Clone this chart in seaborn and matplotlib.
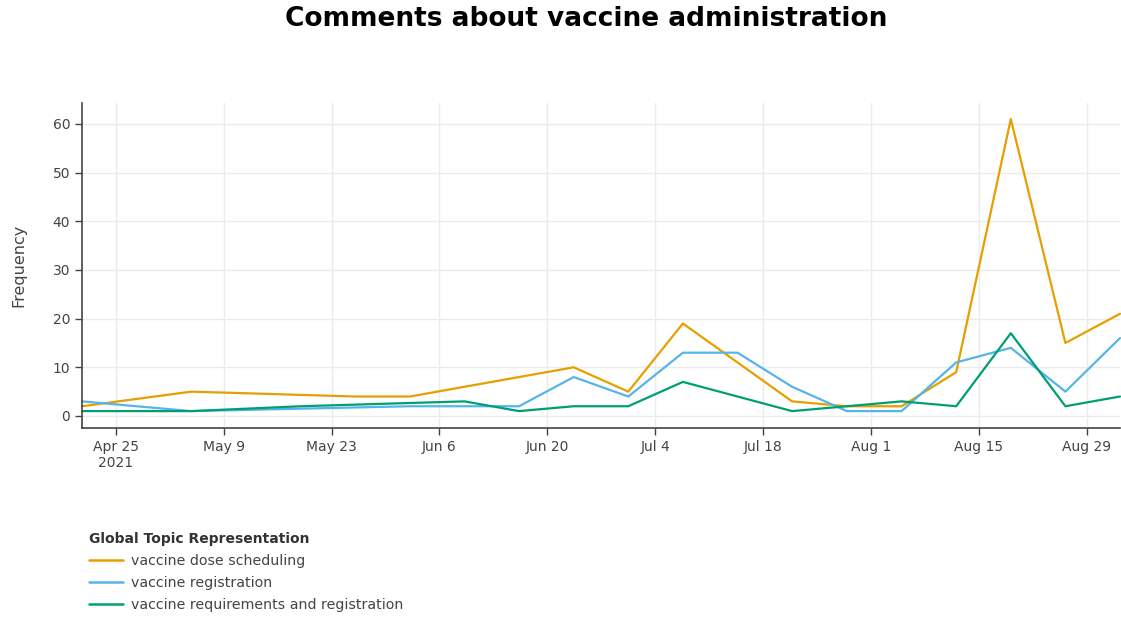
import numpy as np
import pandas as pd
import matplotlib
matplotlib.use("Agg")
import matplotlib.pyplot as plt
import matplotlib.dates as mdates
import seaborn as sns

# bin timestamps (weekly-ish bins)
dates = ["2021-04-20 15:00", "2021-04-27 17:00", "2021-05-04 19:00", "2021-05-11 22:00",
         "2021-05-19 00:00", "2021-05-26 02:00", "2021-06-02 04:00", "2021-06-09 06:00",
         "2021-06-16 08:00", "2021-06-23 10:00", "2021-06-30 12:00", "2021-07-07 14:00",
         "2021-07-14 16:00", "2021-07-21 18:00", "2021-07-28 21:00", "2021-08-04 23:00",
         "2021-08-12 01:00", "2021-08-19 03:00", "2021-08-26 05:00", "2021-09-02 07:00"]

topics = ["vaccine dose scheduling", "vaccine registration",
          "vaccine requirements and registration"]
colors = ["#E69F00", "#56B4E9", "#009E73"]

# indices into dates where each topic has a count
dose_idx = [0, 2, 5, 6, 9, 10, 11, 13, 14, 15, 16, 17, 18, 19]
dose_freq = [2, 5, 4, 4, 10, 5, 19, 3, 2, 2, 9, 61, 15, 21]

reg_idx = [0, 2, 6, 7, 8, 9, 10, 11, 12, 13, 14, 15, 16, 17, 18, 19]
reg_freq = [3, 1, 2, 2, 2, 8, 4, 13, 13, 6, 1, 1, 11, 14, 5, 16]

req_idx = [0, 2, 4, 7, 8, 9, 10, 11, 13, 14, 15, 16, 17, 18, 19]
req_freq = [1, 1, 2, 3, 1, 2, 2, 7, 1, 2, 3, 2, 17, 2, 4]

tick_dates = ["2021-04-25", "2021-05-09", "2021-05-23", "2021-06-06", "2021-06-20",
              "2021-07-04", "2021-07-18", "2021-08-01", "2021-08-15", "2021-08-29"]
tick_labels = ["Apr 25\n2021", "May 9", "May 23", "Jun 6", "Jun 20",
               "Jul 4", "Jul 18", "Aug 1", "Aug 15", "Aug 29"]

frames = []
for name, idx, freq in zip(topics, [dose_idx, reg_idx, req_idx], [dose_freq, reg_freq, req_freq]):
    frames.append(pd.DataFrame({
        "Timestamp": pd.to_datetime([dates[i] for i in idx]),
        "Frequency": freq,
        "Topic": name,
    }))
df = pd.concat(frames, ignore_index=True)

sns.set_style("white")
plt.rcParams['font.family'] = ['DejaVu Sans']

fig = plt.figure(figsize=(11.21, 6.18), dpi=100)
ax = fig.add_axes([82 / 1121, 1 - 428 / 618, (1120 - 82) / 1121, (428 - 103) / 618])

sns.lineplot(data=df, x="Timestamp", y="Frequency", hue="Topic", hue_order=topics,
             palette=colors, linewidth=1.6, ax=ax, legend=False, clip_on=False)

all_dates = pd.to_datetime(dates)
ax.set_xlim(all_dates[0], all_dates[-1])
ax.set_ylim(-2.47, 64.3)
ax.set_yticks([0, 10, 20, 30, 40, 50, 60])
ax.set_xticks(pd.to_datetime(tick_dates))
ax.set_xticklabels(tick_labels)

ax.grid(True, color="#ebebeb", linewidth=1)
ax.set_axisbelow(True)
for s in ["top", "right"]:
    ax.spines[s].set_visible(False)
for s in ["left", "bottom"]:
    ax.spines[s].set_color("#444444")
    ax.spines[s].set_linewidth(1.2)
ax.tick_params(axis="both", direction="out", length=5, width=1, color="#444444",
               labelcolor="#444444", labelsize=10, left=True, bottom=True)
ax.set_xlabel("")
ax.set_ylabel("Frequency", fontsize=11.5, color="#444444", labelpad=19)

fig.suptitle("Comments about vaccine administration", x=0.523, y=0.99,
             fontsize=19, fontweight="bold", color="black")

handles = [plt.Line2D([0], [0], color=c, lw=1.8) for c in colors]
leg = fig.legend(handles, topics, loc="upper left", bbox_to_anchor=(76 / 1121, 1 - 519 / 618),
                 frameon=False, title="Global Topic Representation", fontsize=10.2,
                 handlelength=2.4, handletextpad=0.55, labelspacing=0.58, alignment="left")
leg.get_title().set_fontweight("bold")
leg.get_title().set_fontsize(10)
leg.get_title().set_color("#333333")
for t in leg.get_texts():
    t.set_color("#444444")

fig.savefig("out.png", dpi=100)
